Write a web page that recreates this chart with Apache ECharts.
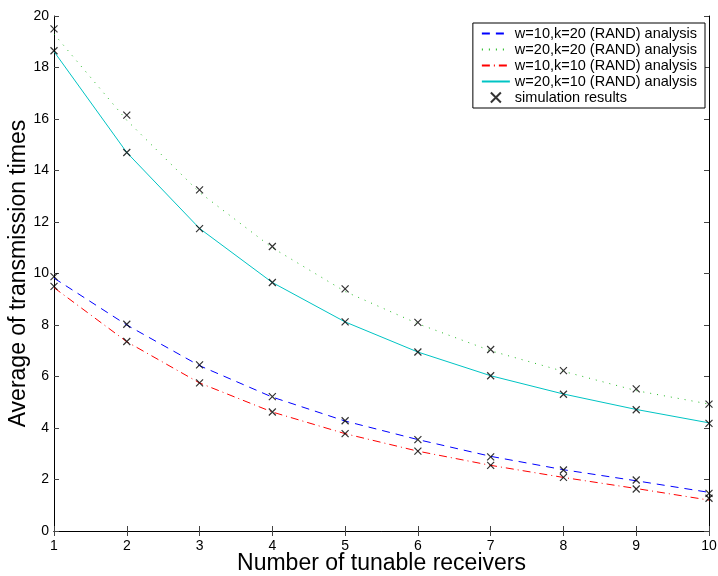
<!DOCTYPE html>
<html>
<head>
<meta charset="utf-8">
<script src="https://cdn.jsdelivr.net/npm/echarts@6/dist/echarts.min.js"></script>
<style>html,body{margin:0;padding:0;background:#fff}#c{width:718px;height:576px}</style>
</head>
<body>
<div id="c"></div>
<script>
const receivers = [1,2,3,4,5,6,7,8,9,10];
const yTicks = [0,2,4,6,8,10,12,14,16,18,20];
const a_w10k20 = [9.82,8.0,6.42,5.2,4.27,3.55,2.9,2.38,1.95,1.5];
const a_w20k20 = [19.3,15.95,13.15,11.0,9.3,8.05,7.0,6.2,5.45,4.93];
const a_w10k10 = [9.45,7.35,5.75,4.62,3.78,3.1,2.55,2.08,1.65,1.2];
const a_w20k10 = [18.62,14.7,11.75,9.65,8.12,6.95,6.03,5.32,4.72,4.2];
const sim_w10k20 = [9.88,8.03,6.45,5.22,4.28,3.55,2.88,2.37,1.98,1.46];
const sim_w20k20 = [19.5,16.15,13.25,11.05,9.4,8.1,7.05,6.23,5.52,4.93];
const sim_w10k10 = [9.5,7.36,5.75,4.62,3.78,3.1,2.55,2.08,1.63,1.27];
const sim_w20k10 = [18.65,14.7,11.74,9.65,8.12,6.95,6.03,5.31,4.71,4.18];
const legendNames = ['w=10,k=20 (RAND) analysis','w=20,k=20 (RAND) analysis','w=10,k=10 (RAND) analysis','w=20,k=10 (RAND) analysis','simulation results'];

const pairs = (xs, ys) => xs.map((x,i)=>[x, ys[i]]);
const simAll = [].concat(pairs(receivers,sim_w10k20), pairs(receivers,sim_w20k20), pairs(receivers,sim_w10k10), pairs(receivers,sim_w20k10));

const font = 'Liberation Sans, Arial, sans-serif';
const chart = echarts.init(document.getElementById('c'));
const axisCommon = {
  axisLine:{show:true,lineStyle:{color:'#000',width:1}},
  axisTick:{show:true,inside:true,length:5,lineStyle:{color:'#444'}},
  splitLine:{show:false}
};
chart.setOption({
  animation:false,
  backgroundColor:'#fff',
  grid:{left:54,right:9,top:16,bottom:45,containLabel:false,outerBoundsMode:'none'},
  xAxis:[
    Object.assign({type:'value',min:1,max:10,interval:1,position:'bottom',
      name:'Number of tunable receivers',nameLocation:'middle',nameGap:21,nameMoveOverlap:false,
      nameTextStyle:{fontFamily:font,fontSize:23,color:'#000'},
      axisLabel:{fontFamily:font,fontSize:14,color:'#000',margin:8}},axisCommon),
    Object.assign({type:'value',min:1,max:10,interval:1,position:'top',axisLabel:{show:false}},axisCommon)
  ],
  yAxis:[
    Object.assign({type:'value',min:0,max:20,interval:2,position:'left',
      name:'Average of transmission times',nameLocation:'middle',nameGap:24,nameMoveOverlap:false,
      nameTextStyle:{fontFamily:font,fontSize:23,color:'#000'},
      axisLabel:{fontFamily:font,fontSize:14,color:'#000',margin:5}},axisCommon),
    Object.assign({type:'value',min:0,max:20,interval:2,position:'right',axisLabel:{show:false}},axisCommon)
  ],
  legend:{
    orient:'vertical', right:13, top:23, itemWidth:28, itemHeight:10, itemGap:1,
    padding:[3,8,3,8], borderColor:'#000', borderWidth:1, backgroundColor:'#fff',
    textStyle:{fontFamily:font,fontSize:14.5,color:'#000'},
    data:legendNames.map((n,i)=> i<4 ? {name:n,itemStyle:{opacity:0}} : {name:n})
  },
  series:[
    {name:legendNames[0],type:'line',data:pairs(receivers,a_w10k20),symbol:'none',
     lineStyle:{color:'#0000ff',width:1,type:[8,6]},itemStyle:{color:'#0000ff'}},
    {name:legendNames[1],type:'line',data:pairs(receivers,a_w20k20),symbol:'none',
     lineStyle:{color:'#22bb22',width:1,type:[1,6]},itemStyle:{color:'#22bb22'}},
    {name:legendNames[2],type:'line',data:pairs(receivers,a_w10k10),symbol:'none',
     lineStyle:{color:'#ff0000',width:1,type:[8,4,1,4]},itemStyle:{color:'#ff0000'}},
    {name:legendNames[3],type:'line',data:pairs(receivers,a_w20k10),symbol:'none',
     lineStyle:{color:'#00c4c4',width:1},itemStyle:{color:'#00c4c4'}},
    {name:legendNames[4],type:'scatter',data:simAll,symbol:'path://M0,0L10,10M10,0L0,10',symbolSize:7,
     itemStyle:{color:'rgba(0,0,0,0)',borderColor:'#000',borderWidth:1.2},z:5}
  ]
});
</script>
</body>
</html>
